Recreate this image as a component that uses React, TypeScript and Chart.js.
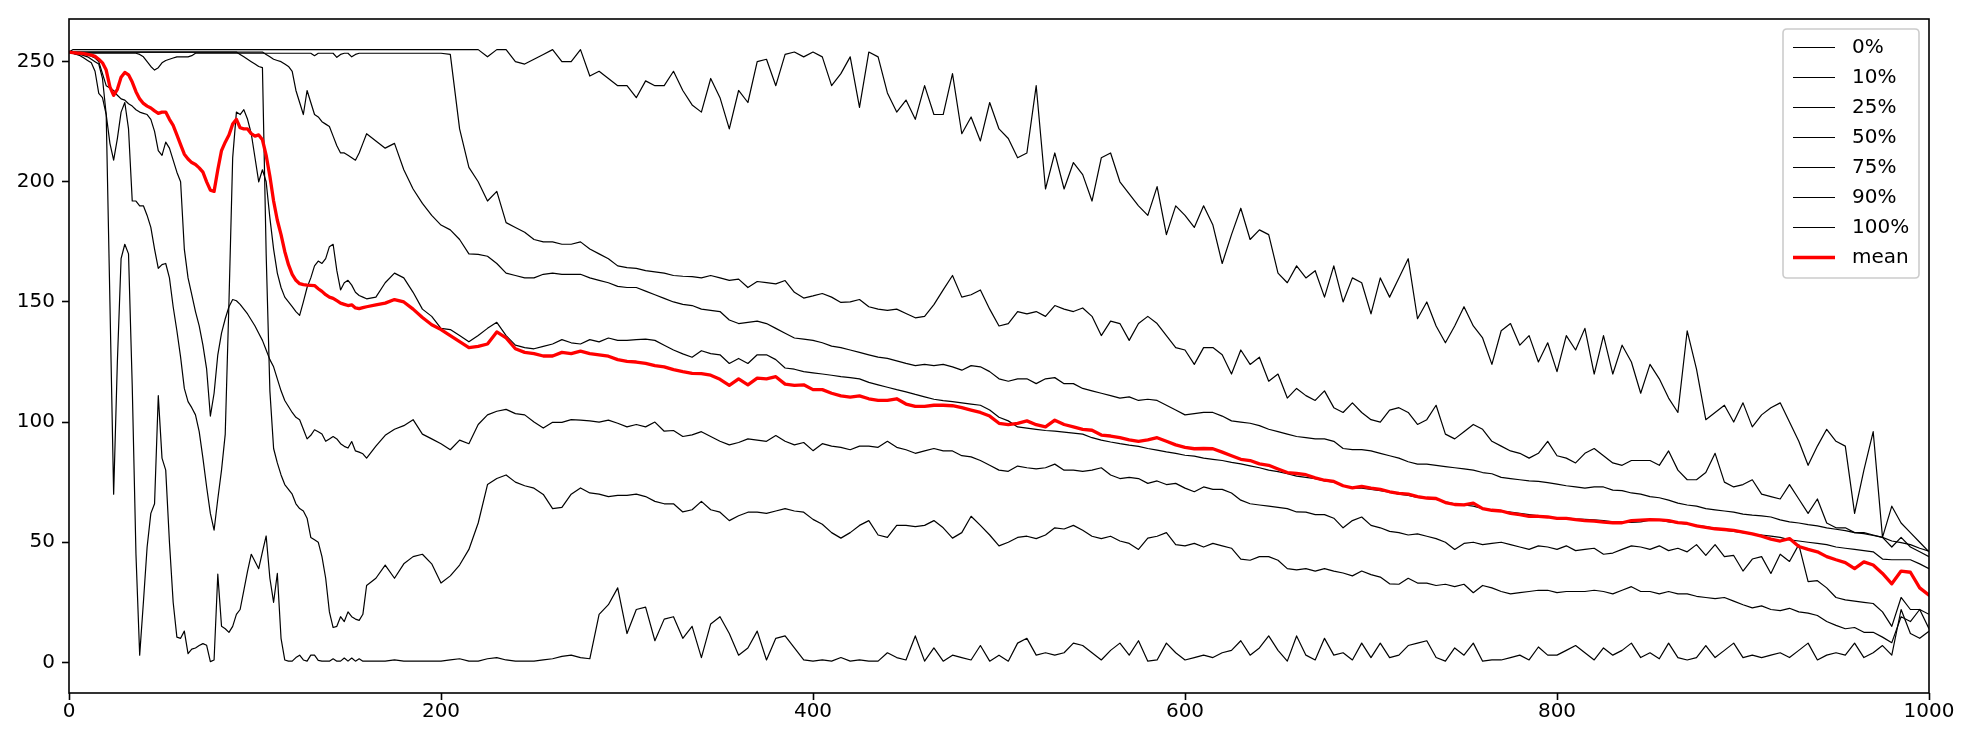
import React, { useEffect, useRef } from "react";
import { Chart, registerables } from "chart.js";

Chart.register(...registerables);

// x sample positions: fine grid 0..160 (step 2), then 165..1000 (step 5)
const xFine: number[] = [];
for (let x = 0; x <= 160; x += 2) xFine.push(x);
const xCoarse: number[] = [];
for (let x = 165; x <= 1000; x += 5) xCoarse.push(x);
const xValues: number[] = [...xFine, ...xCoarse];

const xTicks = [0, 200, 400, 600, 800, 1000];
const yTicks = [0, 50, 100, 150, 200, 250];

const seriesLabels = ["0%", "10%", "25%", "50%", "75%", "90%", "100%"];
const meanLabel = "mean";

// 0% series
const p0: number[] = [
  254, 253.5, 253, 252.5, 251.5, 250.5, 249.5, 246, 236.8, 235,
  228, 150, 70, 125, 168, 174, 170, 115, 45, 3,
  25, 48, 62, 66, 111, 85, 80, 50, 25, 10.5,
  10, 13, 3.6, 5.5, 6, 7, 7.8, 7.1, 0.3, 1,
  36.7, 15, 14, 12.5, 15, 20, 22, 30, 38, 45,
  42, 39, 46, 52.6, 35, 25, 37, 10, 1, 0.5,
  0.5, 2, 3, 1, 0.5, 3, 3, 0.8, 0.5, 0.5,
  0.5, 1.5, 0.5, 0.5, 1.8, 0.5, 1.8, 0.5, 1.5, 0.5,
  0.5,
  0.5, 0.5, 1, 0.5, 0.5, 0.5, 0.5, 0.5, 1, 1.5,
  0.5, 0.5, 1.5, 2, 1, 0.5, 0.5, 0.5, 1, 1.5,
  2.5, 3, 2, 1.5, 20, 24, 31, 12, 22, 23,
  9, 18, 19, 10, 15, 2, 16, 19, 12, 3,
  6, 13, 1, 10, 11, 6, 1, 0.5, 1, 0.5,
  2, 0.5, 1, 0.5, 0.5, 4, 2, 1, 11, 0.5,
  6, 0.5, 3, 2, 1, 7, 0.5, 3, 0.5, 8,
  10, 3, 4, 3, 4, 8, 7, 4, 1, 5,
  8, 3, 9, 0.5, 1, 8, 4, 1, 2, 3,
  2, 4, 5, 9, 3, 6, 11, 5, 0.5, 11,
  3, 1, 10, 3, 4, 1, 8, 2, 8, 2,
  3, 7, 8, 9, 2, 0.5, 6, 3, 8, 0.5,
  1, 1, 2, 3, 1, 6.4, 3, 3, 5, 7,
  4, 1, 6, 3, 5, 8, 2, 4, 1.5, 8,
  2, 1, 2, 7, 2, 5, 8, 2, 3, 2,
  3, 4, 2, 5, 8, 1, 3, 4, 3, 8,
  2, 4, 7, 3, 22, 12, 10, 13,
];

// 10% series
const p10: number[] = [
  254, 254, 254, 254, 254, 254, 254, 254, 254, 254,
  254, 254, 254, 254, 254, 254, 254, 254, 254, 254,
  254, 254, 254, 254, 254, 254, 254, 254, 254, 254,
  254, 254, 254, 254, 254, 254, 254, 254, 254, 254,
  254, 254, 254, 254, 254, 254, 253, 252, 251, 250,
  249, 248, 247.5, 170, 113, 89, 83, 78, 74, 72,
  70, 66, 64, 63, 60, 52, 51, 50, 44, 35,
  21, 14.5, 15, 19, 17, 21, 19, 18, 17.5, 20,
  32,
  35, 40.5, 35, 41, 44, 45, 41, 33, 36, 40.5,
  47, 58, 74, 76.5, 78, 75, 73.5, 72.5, 69.9, 64,
  64.5, 70, 72.6, 70.5, 70, 69, 69.5, 69.5, 70, 69,
  67, 66, 66, 62.6, 63.5, 67, 63.5, 62.5, 59, 61,
  62.5, 62.5, 62, 63, 64, 63, 62.5, 59.5, 57.5, 54,
  51.7, 54, 57, 59, 53, 52, 57, 57, 56.5, 57,
  59, 56, 51.7, 54, 60.8, 57, 53, 48.5, 50, 52,
  52.5, 51.5, 53, 56, 55.5, 57, 55, 52.5, 51.5, 52.5,
  50.5, 49.5, 47, 51.7, 52.5, 54, 49, 48.5, 49.5, 48,
  49.5, 48.5, 47.5, 43, 42.5, 44, 44, 42.5, 39, 38.5,
  39, 38, 39, 38, 37.2, 36, 38, 36.5, 35.5, 32.7,
  32.5, 35, 33, 33, 32, 32.5, 31.5, 32.5, 29, 32,
  31, 29.5, 28.5, 29, 29.5, 30, 30, 29, 29.5, 29.5,
  29.5, 30, 29.5, 28.5, 30, 31.5, 29.5, 29.5, 28.5, 29.5,
  28.5, 28.5, 27.5, 27, 26.5, 27, 25.5, 24, 22.7, 23.5,
  22, 21.5, 22.5, 21, 20.5, 19.5, 17, 15.4, 14, 14.5,
  12.5, 12.5, 10.5, 8.2, 19, 17, 22, 14,
];

// 25% series
const p25: number[] = [
  254, 253.5, 253.3, 253.2, 253, 252.8, 252.3, 251.5, 250, 245,
  240, 239, 238, 236, 234.5, 234, 232.5, 231.5, 230, 229,
  228.5, 228, 226, 221, 213, 211, 216.5, 214, 209, 204,
  200, 172, 160, 153, 146, 140, 132, 122, 102.5, 112,
  128, 137, 143, 148, 151, 150.5, 149, 147, 145, 142.5,
  140, 137, 134, 130, 126, 123, 118, 113, 109, 106.5,
  104, 102, 101, 97, 93, 94.5, 96.8, 96, 95, 92,
  93, 94, 93, 91, 89.9, 89.2, 91.9, 88, 87.5, 86.8,
  85,
  90, 94.5, 97, 98.5, 101, 95, 93, 91, 88.5, 92.5,
  91, 99, 103, 104.5, 105.3, 103.5, 103, 100, 97.5, 99.9,
  99.9, 101, 100.8, 100.5, 100, 100.8, 99.5, 98, 99, 98,
  100, 96.2, 96.5, 94, 94.7, 96, 94, 92, 90.5, 91.5,
  93, 92.5, 92, 94.4, 92, 90.5, 91.5, 88.1, 91, 90,
  89.5, 88.5, 90, 90, 89.5, 92, 89.5, 88.5, 87, 88,
  89, 88, 88, 86, 85.5, 84, 82, 80, 79.5, 81.7,
  81, 80.5, 81, 82.5, 80, 80, 79.5, 80, 81, 78,
  76.5, 77, 76.5, 74.5, 75.5, 74, 74.5, 72.5, 71, 73,
  72, 72, 70.5, 67.5, 66, 65.5, 65, 64.5, 64, 62.6,
  62.5, 61.5, 61.5, 60, 56, 59, 60.5, 57, 56, 54.5,
  54, 53, 53.5, 52.5, 51.5, 50, 47, 49.5, 50, 49,
  49.5, 50, 49, 48, 47, 48.5, 48, 47, 48.5, 46.5,
  47, 47.5, 45, 45.5, 47, 48.5, 48, 47, 48.5, 46.5,
  47.5, 46, 49, 44.5, 49, 44, 44.5, 38, 43, 44,
  37, 45, 42, 49, 33.6, 34, 31, 27, 26, 25.5,
  25, 24.5, 21, 15, 27, 22, 22, 20,
];

// 50% series
const p50: number[] = [
  254, 253.5, 253, 253, 252.5, 252, 251, 250, 249, 243,
  228, 216, 209, 218, 229, 233, 222, 192, 192, 190,
  190, 186, 181, 172, 164, 165.5, 166, 160, 148, 138,
  127, 114, 108.5, 106, 103, 96, 85, 73, 62, 55,
  68, 80, 95, 150, 210, 229, 228, 230, 226, 220,
  210, 200, 205, 200, 185, 172, 162, 156, 152, 150,
  148, 146, 144.4, 150, 156, 160, 165, 167, 166, 168,
  173, 174, 163, 155, 158, 159, 157, 154, 152.7, 152,
  151.3,
  152, 158, 162, 160, 154, 147, 144, 139, 138.5, 136,
  133.4, 136, 139, 141.5, 136, 132, 131, 130.5, 131.5, 132.5,
  134.3, 133, 132.5, 134.3, 133.4, 135, 134, 134, 134.3, 134.5,
  134, 132, 130, 128.4, 127, 129.7, 128.5, 128, 124.4, 126.5,
  124.4, 128, 128, 126, 122.5, 122, 121, 120.5, 120, 119.5,
  118.9, 118.5, 118, 116.5, 115.5, 114.5, 113.5, 112.6, 111.5, 110.5,
  109.5, 108.9, 108.5, 108, 107.5, 107, 105, 102, 100.5, 98,
  97.5, 97, 96.5, 96.2, 95.8, 95.4, 95, 93.5, 92.5, 91.7,
  91, 90.4, 89.9, 89, 88.3, 87.6, 87, 86.2, 85.8, 85,
  84.5, 84, 83.2, 82.6, 81.8, 81, 80, 79.4, 78.5, 77.5,
  77, 76.5, 75.5, 75, 73.5, 72.5, 72.5, 72, 71.5, 70.8,
  70, 69.5, 68.7, 68.2, 67.8, 66.8, 66, 65.5, 65, 64,
  63.5, 63, 62.5, 62, 61.5, 61, 60.5, 60, 60, 59.7,
  59.5, 59.3, 59, 58.5, 58.3, 58.2, 58.5, 59.2, 59.3, 58.5,
  58, 57.5, 57, 56.5, 55.8, 55, 54.5, 54, 53.4, 53,
  52.5, 52, 51, 50.5, 50, 49.5, 49, 48, 47.5, 47,
  46.5, 46, 43, 42.7, 42.7, 42.7, 41, 39,
];

// 75% series
const p75: number[] = [
  254, 254, 254, 254, 254, 254, 254, 254, 254, 254,
  254, 254, 254, 254, 254, 254, 254, 254, 254, 254,
  254, 254, 254, 254, 254, 254, 254, 254, 254, 254,
  254, 254, 254, 254, 254, 254, 254, 254, 254, 254,
  254, 254, 254, 254, 254, 254, 254, 254, 254, 254,
  254, 254, 254, 253, 252, 251, 250.5, 250, 249, 248,
  246, 238, 233, 228, 238, 233, 228, 227, 225, 224,
  223, 219, 215, 212, 212, 211, 210, 209, 212, 216,
  220,
  217, 214, 216, 205, 197, 191, 186, 182, 180, 176,
  170, 169.8, 169, 166, 162, 161, 160, 160, 161.5, 162,
  161.5, 161.5, 161.5, 160, 159, 158, 156.5, 156, 156, 154.5,
  153, 151.5, 150, 149, 148.5, 147, 146.5, 146, 142.5, 141,
  141.5, 142, 141, 139, 137, 135, 134.5, 134, 133, 131.6,
  131, 130, 129, 128, 127, 126.5, 125.5, 124.4, 123.5, 124,
  123.5, 124, 123, 121.6, 123.5, 123, 121, 118, 117, 118,
  118, 116, 118, 118.5, 116, 116, 114, 113, 112, 111,
  110, 110.5, 109, 109.5, 109, 107, 105, 103, 103.5, 104,
  104, 102.5, 100.5, 100, 99.5, 98.5, 97, 96, 95, 94,
  93.5, 93, 93, 92, 89, 88.5, 88.5, 88, 87, 86,
  85, 83.5, 82.5, 82.5, 82, 81.5, 81, 80.5, 80, 79,
  78.5, 77, 76.5, 76, 75.5, 75.3, 74.8, 74.2, 73.5, 73,
  72.5, 73, 73, 71.7, 71.5, 70.5, 70, 69, 68.5, 67.5,
  66.3, 65.5, 65, 64, 63.5, 63, 62.5, 61.7, 61.3, 61,
  60.5, 59.3, 58.5, 58, 57.3, 56.8, 56, 55.4, 54.8, 54,
  53.6, 52.8, 52, 50.5, 49.8, 49, 47.5, 46.3,
];

// 90% series
const p90: number[] = [
  254, 253.5, 253.5, 253.5, 253.5, 253.5, 253.5, 253.5, 253.5, 253.5,
  253.5, 253.5, 253.5, 253.5, 253.5, 253.5, 253.5, 253.5, 253.5, 253,
  252, 250, 248, 246.5, 247.5, 249.5, 250.5, 251, 251.5, 252,
  252, 252, 252, 252.5, 253.5, 253.5, 253.5, 253.5, 253.5, 253.5,
  253.5, 253.5, 253.5, 253.5, 253.5, 253.5, 253.5, 253.5, 253.5, 253.5,
  253.5, 253.5, 253.5, 253.5, 253.5, 253.5, 253.5, 253.5, 253.5, 253.5,
  253.5, 253.5, 253.5, 253.5, 253.5, 253.5, 252.5, 253.5, 253.5, 253.5,
  253.5, 253.5, 251.8, 253, 253.5, 253.5, 252, 253, 253.5, 253.5,
  253.5,
  253.5, 253.5, 253.5, 253.5, 253.5, 253.5, 253.5, 253.5, 253, 222,
  206, 200, 192, 196, 183, 181, 179, 176, 175, 175,
  174, 174, 175, 172, 170, 168, 165, 164.3, 164, 163,
  162.5, 162, 161, 160.7, 160.5, 160, 161, 160, 159, 159.5,
  156, 158.5, 158, 157.5, 158.9, 154, 151.6, 152.5, 153.5, 152,
  149.8, 150, 151, 148, 147, 146.5, 147, 145.2, 143.4, 144,
  148.9, 155, 161, 152, 153, 155, 147, 140, 141, 146,
  145, 146, 144, 148.5, 147, 146, 147.5, 144, 136, 142,
  141, 134, 141, 144, 141, 136, 131, 130, 124, 131,
  131, 128, 120, 130, 124, 127, 117, 120, 110, 114,
  111, 109, 113, 106, 104, 108, 104, 101, 100, 105,
  106, 104, 99, 101, 107, 95, 93, 96, 99, 97,
  92, 90, 88, 87, 85, 87, 92, 86, 85, 83,
  87, 89, 86, 83, 82, 84, 84, 84, 82, 88,
  80, 76, 76, 79, 87, 75, 73, 74, 76, 70,
  69, 68, 74, 68, 62, 68, 58, 56, 56, 54,
  54, 53, 52, 48, 52, 48, 46, 44,
];

// 100% series
const p100: number[] = [
  254, 255, 255, 255, 255, 255, 255, 255, 255, 255,
  255, 255, 255, 255, 255, 255, 255, 255, 255, 255,
  255, 255, 255, 255, 255, 255, 255, 255, 255, 255,
  255, 255, 255, 255, 255, 255, 255, 255, 255, 255,
  255, 255, 255, 255, 255, 255, 255, 255, 255, 255,
  255, 255, 255, 255, 255, 255, 255, 255, 255, 255,
  255, 255, 255, 255, 255, 255, 255, 255, 255, 255,
  255, 255, 255, 255, 255, 255, 255, 255, 255, 255,
  255,
  255, 255, 255, 255, 255, 255, 255, 255, 255, 255,
  255, 255, 252, 255, 255, 250, 249, 251, 253, 255,
  250, 250, 255, 244, 246, 243, 240, 240, 235, 242,
  240, 240, 246, 238, 232, 229, 243, 235, 222, 238,
  233, 250, 251, 240, 253, 254, 252, 254, 252, 240,
  245, 252, 231, 254, 252, 237, 229, 234, 226, 240,
  228, 228, 245, 220, 227, 217, 233, 222, 218, 210,
  212, 240, 197, 212, 197, 208, 203, 192, 210, 212,
  200, 195, 190, 186, 198, 178, 190, 186, 181, 190,
  182, 166, 178, 189, 176, 180, 178, 162, 158, 165,
  160, 163, 152, 165, 150, 160, 158, 145, 160, 152,
  160, 168, 143, 150, 140, 133, 140, 148, 140, 135,
  124, 138, 141, 132, 136, 125, 133, 121, 136, 130,
  139, 120, 136, 120, 132, 125, 112, 124, 118, 110,
  104, 138, 122, 101, 104, 107, 100, 108, 98, 103,
  106, 108, 100, 92, 82, 90, 97, 92, 90, 62,
  80, 96, 52, 65, 58, 54, 50, 46,
];

// mean series
const meanValues: number[] = [
  254, 253.8, 253.6, 253.5, 253.3, 253, 252.7, 252.2, 251, 249.5,
  246.5, 239.5, 236, 238.5, 243.5, 245.5, 244.5, 241.5, 237.5, 234.5,
  232.6, 231.5, 230.7, 229.5, 228.5, 229, 229, 226, 223.5, 219.5,
  215.5, 211.5, 209.5, 208, 207.2, 205.8, 204, 200, 196.5, 196,
  205, 213, 216.5, 219.5, 224, 226, 222.5, 222, 222, 220,
  219, 219.5, 217.5, 211, 202.3, 192, 184, 178, 171, 165.5,
  161.5, 159, 157.6, 157.2, 157, 156.9, 156.8, 155.5, 154.4, 153,
  152, 151.5, 150.5, 149.5, 149, 148.5, 148.8, 147.5, 147.2, 147.6,
  148,
  148.8, 149.5, 151, 150, 147, 143.5, 140.5, 138.5, 136, 133.5,
  131, 131.5, 132.5, 137.5, 135, 130.5, 129, 128.5, 127.5, 127.5,
  129, 128.5, 129.5, 128.5, 128, 127.4, 126, 125.3, 125, 124.4,
  123.5, 123, 121.8, 121, 120.3, 120.2, 119.5, 117.8, 115.3, 118,
  115.5, 118.3, 118, 118.9, 115.8, 115.3, 115.5, 113.5, 113.5, 112,
  110.9, 110.4, 110.9, 109.7, 109, 109, 109.7, 107.5, 106.5, 106.5,
  107, 107, 106.8, 106, 105, 104, 102.5, 99.5, 98.9, 99.5,
  100.5, 98.9, 98, 100.8, 99, 98, 97, 96.6, 94.6, 94.2,
  93.5, 92.6, 92, 92.6, 93.5, 92, 90.5, 89.5, 88.9, 89,
  88.9, 87.5, 86, 84.5, 84, 82.6, 82, 80.5, 79, 78.6,
  78.1, 76.8, 75.8, 75.3, 73.5, 72.6, 73.2, 72.5, 72, 71,
  70.3, 70, 69, 68.4, 68.2, 66.5, 65.7, 65.5, 66.3, 64,
  63.3, 63, 62, 61.5, 60.8, 60.8, 60.5, 59.9, 59.9, 59.4,
  59, 58.8, 58.4, 58.1, 58.1, 59, 59.2, 59.4, 59.3, 59,
  58.2, 57.8, 56.8, 56.2, 55.6, 55.3, 54.9, 54.2, 53.5, 52.5,
  51.3, 50.5, 51.5, 48.2, 47, 46, 44, 42.7, 41.5, 39,
  41.8, 40.5, 37, 32.7, 38, 37.5, 31, 28,
];

const blackSeries = [p0, p10, p25, p50, p75, p90, p100];

const FONT = "'DejaVu Sans', sans-serif";

const framePlugin = {
  id: "frame",
  afterDatasetsDraw(chart: any) {
    const { ctx, chartArea } = chart;
    ctx.save();
    ctx.strokeStyle = "#000";
    ctx.lineWidth = 1.6;
    ctx.strokeRect(
      chartArea.left,
      chartArea.top,
      chartArea.right - chartArea.left,
      chartArea.bottom - chartArea.top
    );
    ctx.restore();
  },
};

const legendPlugin = {
  id: "boxLegend",
  afterDraw(chart: any) {
    const { ctx, chartArea } = chart;
    const boxW = 136;
    const boxH = 249;
    const right = chartArea.right - 10;
    const left = right - boxW;
    const top = chartArea.top + 10;
    const r = 4;
    ctx.save();
    ctx.beginPath();
    ctx.moveTo(left + r, top);
    ctx.lineTo(right - r, top);
    ctx.quadraticCurveTo(right, top, right, top + r);
    ctx.lineTo(right, top + boxH - r);
    ctx.quadraticCurveTo(right, top + boxH, right - r, top + boxH);
    ctx.lineTo(left + r, top + boxH);
    ctx.quadraticCurveTo(left, top + boxH, left, top + boxH - r);
    ctx.lineTo(left, top + r);
    ctx.quadraticCurveTo(left, top, left + r, top);
    ctx.closePath();
    ctx.fillStyle = "rgba(255,255,255,0.8)";
    ctx.fill();
    ctx.strokeStyle = "#cccccc";
    ctx.lineWidth = 1.6;
    ctx.stroke();

    ctx.font = `20px ${FONT}`;
    ctx.textAlign = "left";
    ctx.textBaseline = "middle";
    chart.data.datasets.forEach((ds: any, i: number) => {
      const cy = top + 18.5 + i * 30;
      ctx.beginPath();
      ctx.strokeStyle = ds.borderColor;
      ctx.lineWidth = ds.borderWidth;
      ctx.moveTo(left + 10, cy);
      ctx.lineTo(left + 52, cy);
      ctx.stroke();
      ctx.fillStyle = "#000";
      ctx.fillText(ds.label, left + 69, cy);
    });
    ctx.restore();
  },
};

export default function App() {
  const canvasRef = useRef<HTMLCanvasElement | null>(null);

  useEffect(() => {
    if (!canvasRef.current) return;
    const toPoints = (vals: number[]) =>
      vals.map((v, j) => ({ x: xValues[j], y: v }));

    const datasets: any[] = blackSeries.map((vals, i) => ({
      label: seriesLabels[i],
      data: toPoints(vals),
      borderColor: "#000000",
      borderWidth: 1.2,
      pointRadius: 0,
      tension: 0,
      fill: false,
      borderJoinStyle: "round",
      order: 1,
    }));
    datasets.push({
      label: meanLabel,
      data: toPoints(meanValues),
      borderColor: "#ff0000",
      borderWidth: 3.3,
      pointRadius: 0,
      tension: 0,
      fill: false,
      borderJoinStyle: "round",
      borderCapStyle: "round",
      order: 0,
    });

    const chart = new Chart(canvasRef.current, {
      type: "line",
      data: { datasets },
      options: {
        animation: false,
        responsive: false,
        devicePixelRatio: 1,
        events: [],
        layout: { padding: { top: 15, right: 41, left: 0, bottom: 0 } },
        plugins: {
          legend: { display: false },
          tooltip: { enabled: false },
        },
        scales: {
          x: {
            type: "linear",
            min: 0,
            max: 1000,
            afterFit: (s: any) => {
              s.height = 51;
            },
            afterBuildTicks: (s: any) => {
              s.ticks = xTicks.map((v) => ({ value: v }));
            },
            grid: {
              display: true,
              drawOnChartArea: false,
              drawTicks: true,
              tickLength: 7,
              tickWidth: 1.6,
              tickColor: "#000",
              color: "#000",
            },
            border: { display: false },
            ticks: {
              color: "#000",
              font: { family: FONT, size: 20 },
              padding: 0,
              maxRotation: 0,
              autoSkip: false,
              callback: (v: any) => String(v),
            },
          },
          y: {
            type: "linear",
            min: -12.75,
            max: 267.75,
            afterFit: (s: any) => {
              s.width = 69;
            },
            afterBuildTicks: (s: any) => {
              s.ticks = yTicks.map((v) => ({ value: v }));
            },
            grid: {
              display: true,
              drawOnChartArea: false,
              drawTicks: true,
              tickLength: 7,
              tickWidth: 1.6,
              tickColor: "#000",
              color: "#000",
            },
            border: { display: false },
            ticks: {
              color: "#000",
              font: { family: FONT, size: 20 },
              padding: 7,
              autoSkip: false,
              callback: (v: any) => String(v),
            },
          },
        },
      },
      plugins: [framePlugin, legendPlugin],
    });
    return () => chart.destroy();
  }, []);

  return (
    <div
      style={{
        position: "absolute",
        left: 0,
        top: 0,
        width: 1970,
        height: 744,
        background: "#fff",
      }}
    >
      <canvas
        ref={canvasRef}
        width={1970}
        height={744}
        style={{ display: "block", width: 1970, height: 744 }}
      />
    </div>
  );
}
